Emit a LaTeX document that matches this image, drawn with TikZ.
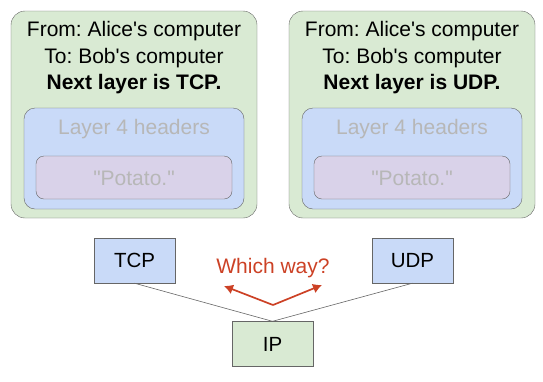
\documentclass[tikz,border=0pt]{standalone}
\usepackage{fontspec}
\setmainfont{Liberation Sans}[Ligatures=TeXOff]
\frenchspacing
\definecolor{FrameGreen}{HTML}{D9EAD3}
\definecolor{HeaderBlue}{HTML}{C9DAF8}
\definecolor{DataPurple}{HTML}{D9D2E9}
\definecolor{EdgeGray}{HTML}{666666}
\definecolor{FadedText}{HTML}{B7B7B7}
\definecolor{AskRed}{HTML}{CC4125}
\usetikzlibrary{positioning, arrows.meta}

\tikzset{
  frame/.style={draw=EdgeGray, fill=FrameGreen, rounded corners=14pt},
  hdrbox/.style={draw=EdgeGray, fill=HeaderBlue, rounded corners=11pt},
  databox/.style={draw=EdgeGray, fill=DataPurple, rounded corners=8pt},
  proto/.style={draw=EdgeGray, minimum width=81pt, minimum height=45pt, font=\fontsize{20.5}{24}\selectfont},
  link/.style={draw=EdgeGray, line width=0.6pt}
}

\begin{document}
\begin{tikzpicture}[x=1pt, y=-1pt]
  \useasboundingbox (0,0) rectangle (543,381);
  % two packets, side by side
  \foreach \dx/\nxt in {0/TCP, 278/UDP} {
    \begin{scope}[xshift=\dx pt]
      \draw[frame] (11,11) rectangle (257,218);
      \node[align=center, font=\fontsize{21}{26.5}\selectfont] at (134,58)
        {From: Alice's computer\\To: Bob's computer\\\textbf{Next layer is \nxt.}};
      \draw[hdrbox] (24,108) rectangle (244,209);
      \node[text=FadedText, font=\fontsize{21}{24}\selectfont] at (134,129) {Layer 4 headers};
      \draw[databox] (36,156) rectangle (232,199);
      \node[text=FadedText, font=\fontsize{21}{24}\selectfont] at (134,178) {"Potato."};
    \end{scope}
  }
  % protocol demultiplexing
  \node[proto, fill=HeaderBlue] (tcp) at (134.5,260.5) {TCP};
  \node[proto, fill=HeaderBlue] (udp) at (412.5,260.5) {UDP};
  \node[proto, fill=FrameGreen] (ip) at (272.5,344) {IP};
  \draw[link] (tcp.south) -- (ip.north);
  \draw[link] (udp.south) -- (ip.north);
  \node[text=AskRed, font=\fontsize{21}{24}\selectfont] (ask) at (273,268) {Which way?};
  \coordinate (fork) at (273,305);
  \coordinate (toleft) at (224,286);
  \coordinate (toright) at (322,285);
  \draw[AskRed, line width=1.7pt, -{Latex[length=9pt, width=10pt]}] (fork) -- (toleft);
  \draw[AskRed, line width=1.7pt, -{Latex[length=9pt, width=10pt]}] (fork) -- (toright);
\end{tikzpicture}
\end{document}
